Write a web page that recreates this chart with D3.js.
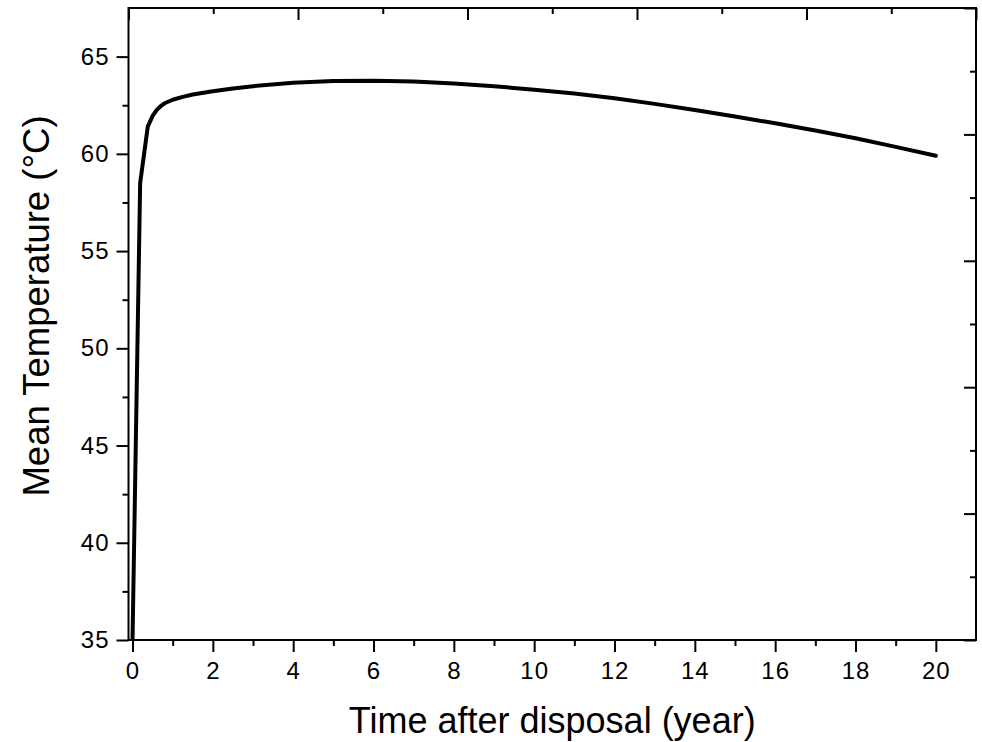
<!DOCTYPE html>
<html>
<head>
<meta charset="utf-8">
<script src="https://cdn.jsdelivr.net/npm/d3@7"></script>
<style>
  body { margin: 0; background: #fff; }
  svg { display: block; font-family: "Liberation Sans", Arial, sans-serif; }
</style>
</head>
<body>
<div id="chart"></div>
<script>
// data
let years = [0, 0.19, 0.38, 0.5, 0.6, 0.7, 0.8, 1, 1.25, 1.5, 2, 2.5, 3, 4, 5, 6, 7, 8, 9, 10,
             11, 12, 13, 14, 15, 16, 17, 18, 19, 20];
let meanTemp = [35, 58.5, 61.4, 61.95, 62.25, 62.45, 62.6, 62.78, 62.93, 63.05, 63.22, 63.36, 63.48,
                63.65, 63.74, 63.76, 63.72, 63.62, 63.48, 63.3,
                63.1, 62.86, 62.57, 62.25, 61.92, 61.57, 61.2, 60.8, 60.36, 59.9];

let xMajor = [0, 2, 4, 6, 8, 10, 12, 14, 16, 18, 20];
let xMinor = [1, 3, 5, 7, 9, 11, 13, 15, 17, 19];
let yMajor = [35, 40, 45, 50, 55, 60, 65];
let yMinor = [37.5, 42.5, 47.5, 52.5, 57.5, 62.5];
let frameTicks = [0, 1, 2, 3, 4, 5, 6, 7, 8, 9, 10];

let xTitle = 'Time after disposal (year)';
let yTitle = 'Mean Temperature (°C)';

// svg dimensions
let svgWidth = 982,
    svgHeight = 742;

// plot frame
let frame = { left: 128.5, right: 976, top: 8, bottom: 640 };

let svg = d3.select('#chart')
    .append('svg')
    .attr('width', svgWidth)
    .attr('height', svgHeight);

let xScale = d3.scaleLinear()
    .domain([-0.1, 21])
    .range([frame.left, frame.right]);

let yScale = d3.scaleLinear()
    .domain([35, 67.5])
    .range([frame.bottom, frame.top]);

// top / right axes just carry plain ticks
let topScale = d3.scaleLinear().domain([0, 10]).range([frame.left, frame.right]);
let rightScale = d3.scaleLinear().domain([0, 10]).range([frame.bottom, frame.top]);

function styleAxis(g) {
    g.select('.domain').remove();
    g.attr('font-family', '"Liberation Sans", Arial, sans-serif');
    g.selectAll('line').attr('stroke', '#000').attr('stroke-width', 2);
    g.selectAll('text').attr('fill', '#000').attr('font-size', 24).attr('letter-spacing', 1);
}

// bottom axis
svg.append('g')
    .attr('transform', `translate(0, ${frame.bottom})`)
    .call(d3.axisBottom(xScale).tickValues(xMajor).tickSize(12).tickPadding(10)
        .tickFormat(d3.format('d')))
    .call(styleAxis);

svg.append('g')
    .attr('transform', `translate(0, ${frame.bottom})`)
    .call(d3.axisBottom(xScale).tickValues(xMinor).tickSize(6).tickFormat(''))
    .call(styleAxis);

// left axis
svg.append('g')
    .attr('transform', `translate(${frame.left}, 0)`)
    .call(d3.axisLeft(yScale).tickValues(yMajor).tickSize(12).tickPadding(7)
        .tickFormat(d3.format('d')))
    .call(styleAxis);

svg.append('g')
    .attr('transform', `translate(${frame.left}, 0)`)
    .call(d3.axisLeft(yScale).tickValues(yMinor).tickSize(6).tickFormat(''))
    .call(styleAxis);

// top axis (inward)
svg.append('g')
    .attr('transform', `translate(0, ${frame.top})`)
    .call(d3.axisTop(topScale).tickValues(frameTicks.filter(d => d % 2 == 0)).tickSize(-12).tickFormat(''))
    .call(styleAxis);
svg.append('g')
    .attr('transform', `translate(0, ${frame.top})`)
    .call(d3.axisTop(topScale).tickValues(frameTicks.filter(d => d % 2 == 1)).tickSize(-6).tickFormat(''))
    .call(styleAxis);

// right axis (inward)
svg.append('g')
    .attr('transform', `translate(${frame.right}, 0)`)
    .call(d3.axisRight(rightScale).tickValues(frameTicks.filter(d => d % 2 == 0)).tickSize(-12).tickFormat(''))
    .call(styleAxis);
svg.append('g')
    .attr('transform', `translate(${frame.right}, 0)`)
    .call(d3.axisRight(rightScale).tickValues(frameTicks.filter(d => d % 2 == 1)).tickSize(-6).tickFormat(''))
    .call(styleAxis);

// frame box
svg.append('rect')
    .attr('x', frame.left)
    .attr('y', frame.top)
    .attr('width', frame.right - frame.left)
    .attr('height', frame.bottom - frame.top)
    .attr('fill', 'none')
    .attr('stroke', '#000')
    .attr('stroke-width', 2);

// clip
svg.append('clipPath')
    .attr('id', 'plotClip')
    .append('rect')
    .attr('x', frame.left)
    .attr('y', frame.top)
    .attr('width', frame.right - frame.left)
    .attr('height', frame.bottom - frame.top);

let line = d3.line()
    .x((d, i) => xScale(years[i]))
    .y(d => yScale(d));

svg.append('path')
    .datum(meanTemp)
    .attr('clip-path', 'url(#plotClip)')
    .attr('d', line)
    .attr('fill', 'none')
    .attr('stroke', '#000')
    .attr('stroke-width', 4)
    .attr('stroke-linejoin', 'round')
    .attr('stroke-linecap', 'round');

// axis titles
svg.append('text')
    .attr('x', (frame.left + frame.right) / 2)
    .attr('y', 732.5)
    .attr('text-anchor', 'middle')
    .attr('font-size', 36)
    .attr('fill', '#000')
    .text(xTitle);

svg.append('text')
    .attr('transform', 'translate(48.5, 306) rotate(-90)')
    .attr('text-anchor', 'middle')
    .attr('font-size', 36.5)
    .attr('fill', '#000')
    .text(yTitle);
</script>
</body>
</html>
